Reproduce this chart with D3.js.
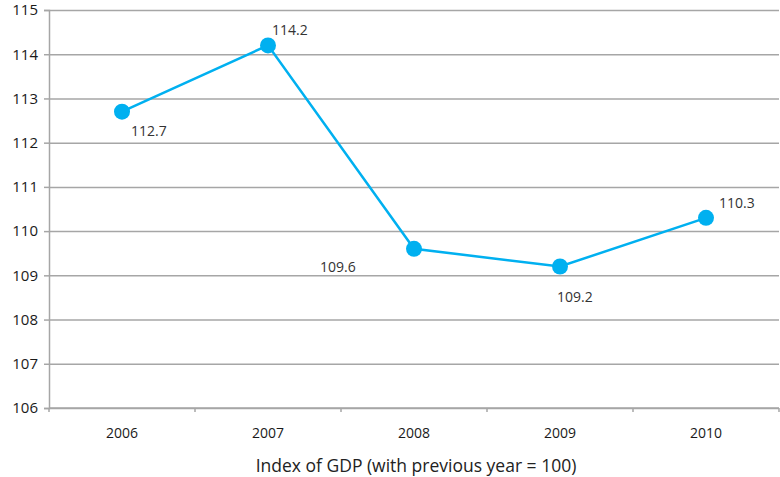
<!DOCTYPE html>
<html>
<head>
<meta charset="utf-8">
<script src="https://cdn.jsdelivr.net/npm/d3@7.9.0/dist/d3.min.js"></script>
<style>
  body { margin: 0; background: #fff; }
  svg { display: block; font-family: 'Open Sans', 'Liberation Sans', sans-serif; }
</style>
</head>
<body>
<div id="chart"></div>
<script>
const years = ['2006', '2007', '2008', '2009', '2010'];
const gdpIndex = [112.7, 114.2, 109.6, 109.2, 110.3];
const yTicks = [106, 107, 108, 109, 110, 111, 112, 113, 114, 115];
const xTitle = 'Index of GDP (with previous year = 100)';

// where each value label sits relative to its point
const labelOffsets = [[9, 24], [4, -10], [-94, 23], [-3, 36], [13, -10]];

const width = 780;
const height = 477;
const margin = { top: 10, right: 1, bottom: 69, left: 49 };

const svg = d3.select('#chart').append('svg')
  .attr('width', width)
  .attr('height', height);

const x = d3.scaleBand()
  .domain(years)
  .range([margin.left, width - margin.right]);

const y = d3.scaleLinear()
  .domain([106, 115])
  .range([height - margin.bottom, margin.top]);

const grid = '#a6a6a6';

// horizontal gridlines
svg.append('g')
  .attr('transform', `translate(${margin.left},0)`)
  .call(d3.axisLeft(y).tickValues(yTicks).tickFormat('').tickSize(-(width - margin.left - margin.right)))
  .call(g => g.select('.domain').remove())
  .call(g => g.selectAll('line').attr('stroke', grid).attr('stroke-width', 1.5));

// y axis
svg.append('g')
  .attr('transform', `translate(${margin.left},0)`)
  .call(d3.axisLeft(y).tickValues(yTicks).tickSize(5).tickPadding(6).tickFormat(d3.format('d')))
  .call(g => g.select('.domain').attr('stroke', grid).attr('stroke-width', 1.5))
  .call(g => g.selectAll('line').attr('stroke', grid).attr('stroke-width', 1.5))
  .call(g => g.selectAll('text').attr('fill', '#1a1a1a').attr('font-size', 15)
    .attr('font-family', "'Open Sans', sans-serif"));

// x axis: ticks sit at the category boundaries
const bounds = years.map(d => x(d)).concat([x.range()[1]]);
const xAxis = svg.append('g')
  .attr('transform', `translate(0,${y(106)})`);
xAxis.append('line')
  .attr('x1', x.range()[0]).attr('x2', x.range()[1])
  .attr('stroke', grid).attr('stroke-width', 1.5);
xAxis.selectAll('line.tick')
  .data(bounds)
  .join('line')
  .attr('class', 'tick')
  .attr('x1', d => d).attr('x2', d => d)
  .attr('y1', 0).attr('y2', 4)
  .attr('stroke', grid).attr('stroke-width', 1.5);
xAxis.selectAll('text')
  .data(years)
  .join('text')
  .attr('x', d => x(d) + x.bandwidth() / 2)
  .attr('y', 30)
  .attr('text-anchor', 'middle')
  .attr('font-size', 14)
  .attr('fill', '#1a1a1a')
  .text(d => d);

svg.append('text')
  .attr('x', 416)
  .attr('y', 472)
  .attr('text-anchor', 'middle')
  .attr('font-size', 17.5)
  .attr('fill', '#222')
  .text(xTitle);

const pts = years.map((d, i) => ({ year: d, value: gdpIndex[i] }));
const cx = d => x(d.year) + x.bandwidth() / 2;

svg.append('path')
  .datum(pts)
  .attr('fill', 'none')
  .attr('stroke', '#00b0f0')
  .attr('stroke-width', 2.5)
  .attr('d', d3.line().x(cx).y(d => y(d.value)));

svg.append('g')
  .selectAll('circle')
  .data(pts)
  .join('circle')
  .attr('cx', cx)
  .attr('cy', d => y(d.value))
  .attr('r', 8)
  .attr('fill', '#00b0f0');

svg.append('g')
  .selectAll('text')
  .data(pts)
  .join('text')
  .attr('x', (d, i) => cx(d) + labelOffsets[i][0])
  .attr('y', (d, i) => y(d.value) + labelOffsets[i][1])
  .attr('font-size', 14)
  .attr('fill', '#333')
  .text(d => d.value.toFixed(1));
</script>
</body>
</html>
